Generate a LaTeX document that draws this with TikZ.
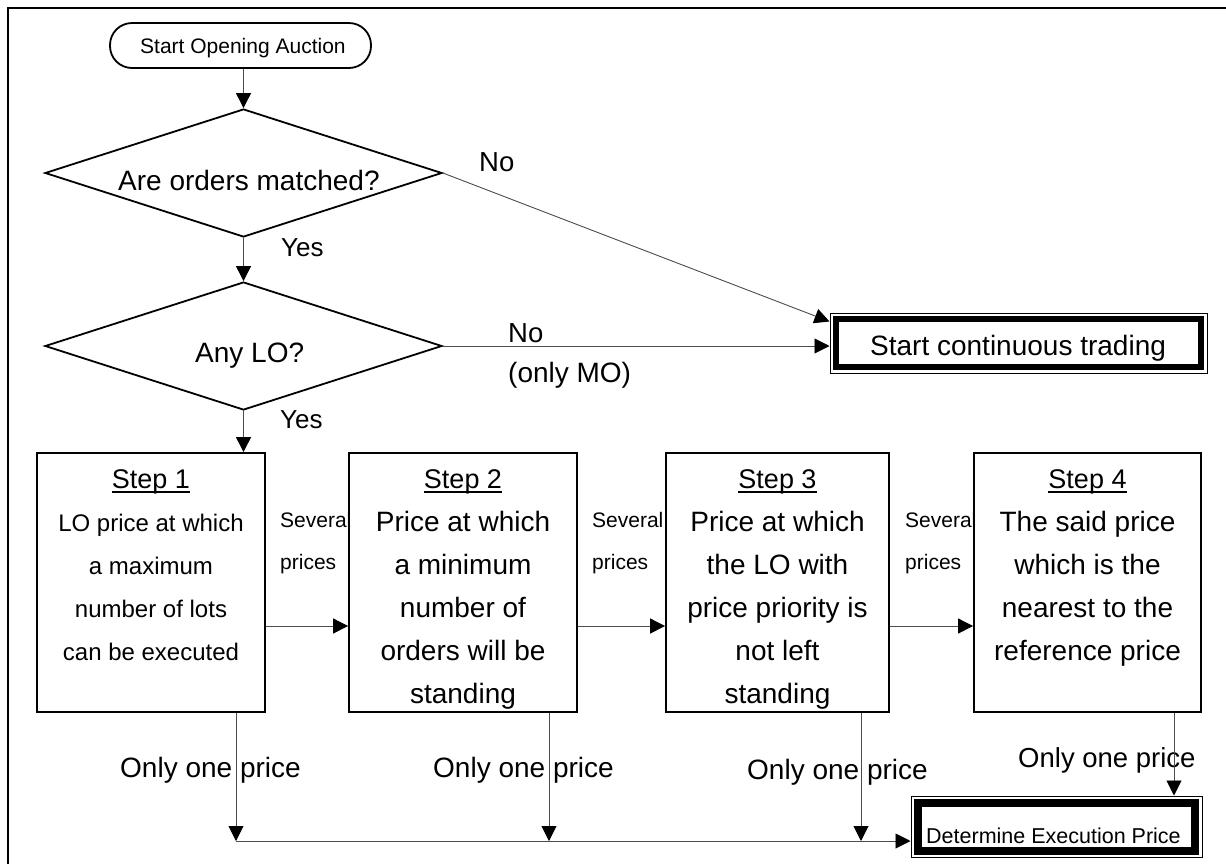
\documentclass[tikz,border=0pt]{standalone}
\usepackage{fontspec}
\setmainfont{Liberation Sans}
\usetikzlibrary{arrows.meta,shapes.geometric,calc}
\newcommand{\fs}[1]{\fontsize{#1}{#1}\selectfont}
\newsavebox{\ulbox}
\newcommand{\ulx}[1]{\sbox{\ulbox}{#1}\rlap{\rule[-4.5pt]{\wd\ulbox}{1.8pt}}\usebox{\ulbox}}
\begin{document}
\begin{tikzpicture}[x=1pt,y=-1pt,
  conn/.style={line width=0.9pt, draw=black!70, -{Triangle[length=15pt,width=15pt,color=black]}},
  box/.style={draw, line width=1.8pt, inner sep=0pt, outer sep=0.9pt},
  stepbox/.style={box, minimum width=228pt, minimum height=259pt},
  dia/.style={diamond, draw, line width=1.8pt, inner sep=0pt, minimum width=397pt, minimum height=128pt},
  txt/.style={anchor=base west, inner sep=0pt},
  ctxt/.style={anchor=base, inner sep=0pt},
  body/.style={ctxt, font=\fs{28}},
  ttl/.style={ctxt, font=\fs{27}},
  sev/.style={txt, font=\fs{21}},
  lab/.style={txt, font=\fs{27.5}},
  one/.style={txt, font=\fs{28}}]
\useasboundingbox (0,0) rectangle (1226,863);
\clip (0,0) rectangle (1226,863);
% outer frame
\draw[line width=2pt] (8,870) -- (8,8) -- (1235,8);

% start terminal
\node[box, rounded corners=22pt, minimum width=261pt, minimum height=45pt] (start) at (240.5,45.5) {};
\node[txt, font=\fs{21}] (startT) at (140,53) {Start Opening Auction};

% decisions
\node[dia] (d1) at (243.5,173) {};
\node[txt, font=\fs{28}] (d1T) at (118,190) {Are orders matched?};
\node[dia] (d2) at (243.5,346) {};
\node[txt, font=\fs{28}] (d2T) at (195,362) {Any LO?};

% start continuous trading
\node[draw, line width=1pt, inner sep=0pt, minimum width=377pt, minimum height=60pt] (sct) at (1018.5,343) {};
\node[txt, font=\fs{28}] (sctT) at (870,355) {Start continuous trading};
\draw[line width=6.5pt] ($(sct.north west)+(6.7,6.7)$) rectangle ($(sct.south east)+(-6.7,-6.7)$);

% determine execution price
\node[draw, line width=1pt, inner sep=0pt, minimum width=291pt, minimum height=61pt] (dep) at (1056.5,826.5) {};
\node[txt, font=\fs{21.5}] (depT) at (926,843) {Determine Execution Price};
\draw[line width=7.5pt] ($(dep.north west)+(7.6,7.4)$) rectangle ($(dep.south east)+(-7.6,-6.6)$);

% steps
\node[stepbox] (s1) at (151,582.5) {};
\node[stepbox] (s2) at (463,582.5) {};
\node[stepbox, minimum width=223pt] (s3) at (777.5,582.5) {};
\node[stepbox, minimum width=227pt] (s4) at (1087.5,582.5) {};

\node[ttl] (s1t) at (151,488) {\ulx{Step 1}};
\node[ctxt, font=\fs{24}] (s1a) at (151,531) {LO price at which};
\node[ctxt, font=\fs{24}] (s1b) at (151,574) {a maximum};
\node[ctxt, font=\fs{24}] (s1c) at (151,617) {number of lots};
\node[ctxt, font=\fs{24}] (s1d) at (151,660) {can be executed};

\node[ttl] (s2t) at (463,488) {\ulx{Step 2}};
\node[body] (s2a) at (463,531) {Price at which};
\node[body] (s2b) at (463,574) {a minimum};
\node[body] (s2c) at (463,617) {number of};
\node[body] (s2d) at (463,660) {orders will be};
\node[body] (s2e) at (463,703) {standing};

\node[ttl] (s3t) at (777.5,488) {\ulx{Step 3}};
\node[body] (s3a) at (777.5,531) {Price at which};
\node[body] (s3b) at (777.5,574) {the LO with};
\node[body] (s3c) at (777.5,617) {price priority is};
\node[body] (s3d) at (777.5,660) {not left};
\node[body] (s3e) at (777.5,703) {standing};

\node[ttl] (s4t) at (1087.5,488) {\ulx{Step 4}};
\node[body] (s4a) at (1087.5,531) {The said price};
\node[body] (s4b) at (1087.5,574) {which is the};
\node[body] (s4c) at (1087.5,617) {nearest to the};
\node[body] (s4d) at (1087.5,660) {reference price};

% several prices labels
\node[sev] (sv1a) at (280,527) {Several};
\node[sev] (sv1b) at (280,569) {prices};
\node[sev] (sv2a) at (592,527) {Several};
\node[sev] (sv2b) at (592,569) {prices};
\node[sev] (sv3a) at (905,527) {Several};
\node[sev] (sv3b) at (905,569) {prices};

% yes / no labels
\node[lab, font=\fs{26}] (y1) at (281,256) {Yes};
\node[lab, font=\fs{26}] (y2) at (280,428) {Yes};
\node[lab] (n1) at (479,171) {No};
\node[lab] (n2) at (508,342) {No};
\node[lab, font=\fs{28}] (mo) at (508,382) {(only MO)};

% only one price labels
\node[one] (o1) at (120,777) {Only one price};
\node[one] (o2) at (433,777) {Only one price};
\node[one] (o3) at (747,779) {Only one price};
\node[one, font=\fs{27.5}] (o4) at (1018,767) {Only one price};

% connectors
\coordinate (hy) at (0,626);
\coordinate (v1) at (236,841);
\coordinate (v2) at (549,841);
\coordinate (v3) at (861,841);
\coordinate (v4) at (1174,841);

\draw[conn] (start.south -| d1.north) -- (d1.north);
\draw[conn] (d1.south) -- (d2.north);
\draw[conn] (d2.south) -- (d2.south |- s1.north);
\draw[conn] (d1.east) -- ($(sct.north west)+(0,9)$);
\draw[conn] (d2.east) -- (d2.east -| sct.west);
\draw[conn] (s1.east |- hy) -- (s2.west |- hy);
\draw[conn] (s2.east |- hy) -- (s3.west |- hy);
\draw[conn] (s3.east |- hy) -- (s4.west |- hy);
\draw[conn] (v1 |- s1.south) -- (v1);
\draw[conn] (v2 |- s2.south) -- (v2);
\draw[conn] (v3 |- s3.south) -- (v3);
\draw[conn] (v1) -- (v1 -| dep.west);
\draw[conn] (v4 |- s4.south) -- (v4 |- dep.north);
\end{tikzpicture}
\end{document}
